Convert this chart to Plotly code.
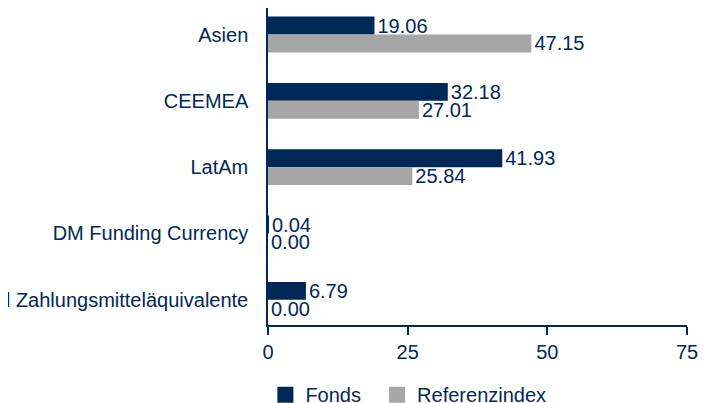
import plotly.graph_objects as go

categories = ["Asien", "CEEMEA", "LatAm", "DM Funding Currency", "Kasse und Zahlungsmitteläquivalente"]
fonds = [19.06, 32.18, 41.93, 0.04, 6.79]
referenz = [47.15, 27.01, 25.84, 0.00, 0.00]
x_ticks = [0, 25, 50, 75]
legend_names = ["Fonds\u00a0\u00a0", "Referenzindex"]

navy = "#002856"
grey = "#a6a6a6"
font_family = "Liberation Sans, Arial, sans-serif"
fs = 20

fig = go.Figure()
fig.add_trace(go.Bar(
    y=categories, x=fonds, name="Fonds", orientation="h",
    marker=dict(color=navy, line=dict(width=0)),
    text=[f"{v:.2f}" for v in fonds], textposition="outside", constraintext="none",
    textfont=dict(color=navy, size=fs, family=font_family), cliponaxis=False,
    showlegend=False,
))
fig.add_trace(go.Bar(
    y=categories, x=referenz, name="Referenzindex", orientation="h",
    marker=dict(color=grey, line=dict(width=0)),
    text=[f"{v:.2f}" for v in referenz], textposition="outside", constraintext="none",
    textfont=dict(color=navy, size=fs, family=font_family), cliponaxis=False,
    showlegend=False,
))
# legend entries with larger square swatches
for name, col in zip(legend_names, [navy, grey]):
    fig.add_trace(go.Scatter(
        x=[None], y=[None], mode="markers", name=name,
        marker=dict(symbol="square", size=17, color=col, line=dict(width=0)),
        showlegend=True,
    ))

fig.update_layout(
    template="none",
    width=713, height=403,
    margin=dict(l=260, r=34, t=0, b=86, autoexpand=False),
    barmode="group", bargap=0.46, bargroupgap=0,
    paper_bgcolor="white", plot_bgcolor="white",
    font=dict(family=font_family, size=fs, color=navy),
    showlegend=True,
    legend=dict(orientation="h", xref="container", yref="container",
                x=0.361, y=0.089, xanchor="left", yanchor="top",
                font=dict(size=fs, color=navy), bgcolor="rgba(0,0,0,0)",
                itemwidth=30, traceorder="normal"),
    xaxis=dict(range=[0, 75], tickvals=x_ticks, ticktext=[str(t) for t in x_ticks],
               showgrid=False, zeroline=False, showline=True, linecolor=navy, linewidth=1.5,
               ticks="outside", ticklen=8, tickcolor=navy, tickwidth=1.5,
               tickfont=dict(size=fs, color=navy), automargin=False),
    yaxis=dict(categoryorder="array", categoryarray=categories, range=[4.38, -0.4],
               showgrid=False, zeroline=False, showline=True, linecolor=navy, linewidth=1.5,
               ticks="", ticklabelstandoff=14,
               tickfont=dict(size=fs, color=navy), automargin=False),
)

fig.write_html("out.html")
